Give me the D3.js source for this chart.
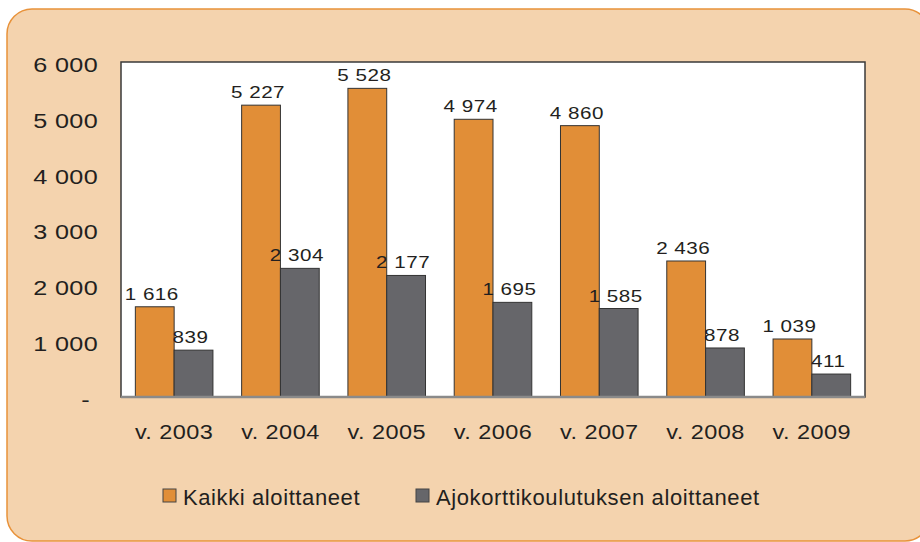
<!DOCTYPE html>
<html>
<head>
<meta charset="utf-8">
<script src="https://cdn.jsdelivr.net/npm/d3@7"></script>
<style>
  body { margin: 0; background: #fff; }
  text { font-family: "Liberation Sans", Arial, sans-serif; fill: #231f20; }
</style>
</head>
<body>
<div id="chart"></div>
<script>
// data
var years = ["v. 2003", "v. 2004", "v. 2005", "v. 2006", "v. 2007", "v. 2008", "v. 2009"];
var kaikki = [1616, 5227, 5528, 4974, 4860, 2436, 1039];
var ajokortti = [839, 2304, 2177, 1695, 1585, 878, 411];
var seriesNames = ["Kaikki aloittaneet", "Ajokorttikoulutuksen aloittaneet"];
var seriesColors = ["#e18e37", "#66666a"];
var yTicks = [0, 1000, 2000, 3000, 4000, 5000, 6000];

var svgWidth = 920, svgHeight = 542;
var margin = { top: 62, right: 55, bottom: 145, left: 121 };
var width = svgWidth - margin.left - margin.right;
var height = svgHeight - margin.top - margin.bottom;

// the original font is a bit wider than Arial, so stretch text horizontally
var valStretch = 1.25, tickStretch = 1.2, catStretch = 1.12;

var fi = d3.formatLocale({ decimal: ",", thousands: " ", grouping: [3], currency: ["", ""] });
var fmt = fi.format(",d");

var svg = d3.select("#chart").append("svg")
  .attr("width", svgWidth)
  .attr("height", svgHeight);

// orange rounded panel behind everything
svg.append("rect")
  .attr("x", 7).attr("y", 9)
  .attr("width", 923).attr("height", 532)
  .attr("rx", 25).attr("ry", 25)
  .attr("fill", "#f4d3ae")
  .attr("stroke", "#e8923a")
  .attr("stroke-width", 1.5);

var g = svg.append("g")
  .attr("transform", `translate(${margin.left}, ${margin.top})`);

// plot area
g.append("rect")
  .attr("width", width).attr("height", height)
  .attr("fill", "#fff")
  .attr("stroke", "#3a3a3a")
  .attr("stroke-width", 1.5);

var xScale = d3.scaleBand()
  .domain(years)
  .range([0, width])
  .paddingInner(0.27)
  .paddingOuter(0.135);

var xInner = d3.scaleBand()
  .domain([0, 1])
  .range([0, xScale.bandwidth()]);

var yScale = d3.scaleLinear()
  .domain([0, 6000])
  .range([height, 0]);

var rows = years.map((y, i) => ({ year: y, values: [kaikki[i], ajokortti[i]] }));

var groups = g.selectAll(".year")
  .data(rows)
  .enter()
  .append("g")
  .attr("class", "year")
  .attr("transform", d => `translate(${xScale(d.year)}, 0)`);

groups.selectAll("rect")
  .data(d => d.values.map((v, k) => ({ k: k, v: v })))
  .enter()
  .append("rect")
  .attr("x", d => xInner(d.k))
  .attr("y", d => yScale(d.v))
  .attr("width", xInner.bandwidth())
  .attr("height", d => height - yScale(d.v))
  .attr("fill", d => seriesColors[d.k])
  .attr("stroke", "#333")
  .attr("stroke-width", 1);

// value labels
groups.selectAll(".val")
  .data(d => d.values.map((v, k) => ({ k: k, v: v })))
  .enter()
  .append("text")
  .attr("class", "val")
  .attr("transform", d => `translate(${xInner(d.k) + xInner.bandwidth() / 2 - 3}, ${yScale(d.v) - 7}) scale(${valStretch}, 1)`)
  .attr("text-anchor", "middle")
  .style("font-size", "16.5px")
  .style("letter-spacing", "0.4px")
  .text(d => fmt(d.v));

// bottom axis line
g.append("line")
  .attr("x1", 0).attr("x2", width)
  .attr("y1", height).attr("y2", height)
  .attr("stroke", "#8a8a8a")
  .attr("stroke-width", 2.5);

// y axis labels
var yAxis = d3.axisLeft(yScale)
  .tickValues(yTicks)
  .tickSize(0)
  .tickPadding(23)
  .tickFormat(d => d === 0 ? "-" : fmt(d));

var yG = g.append("g").call(yAxis);
yG.select(".domain").remove();
yG.selectAll("text")
  .attr("x", d => (d === 0 ? -31 : -23) / tickStretch)
  .attr("transform", `scale(${tickStretch}, 1)`)
  .attr("dy", "0.45em")
  .style("font-size", "21px")
  .style("letter-spacing", "0.3px");

// x axis labels
var xAxis = d3.axisBottom(xScale).tickSize(0).tickPadding(27);
var xG = g.append("g")
  .attr("transform", `translate(0, ${height})`)
  .call(xAxis);
xG.select(".domain").remove();
xG.selectAll("text")
  .attr("transform", `scale(${catStretch}, 1)`)
  .style("font-size", "21px")
  .style("letter-spacing", "0.4px");
d3.selectAll(".tick text").attr("font-family", null).attr("font-size", null).attr("fill", "#231f20");

// legend
var legendX = [163, 416];
var legend = svg.selectAll(".legend")
  .data(seriesNames)
  .enter()
  .append("g")
  .attr("class", "legend")
  .attr("transform", (d, i) => `translate(${legendX[i]}, 489)`);

legend.append("rect")
  .attr("width", 13).attr("height", 13)
  .attr("fill", (d, i) => seriesColors[i])
  .attr("stroke", "#444")
  .attr("stroke-width", 1);

legend.append("text")
  .attr("x", 20)
  .attr("y", 16)
  .style("font-size", "22px")
  .style("letter-spacing", "0.6px")
  .text(d => d);
</script>
</body>
</html>
